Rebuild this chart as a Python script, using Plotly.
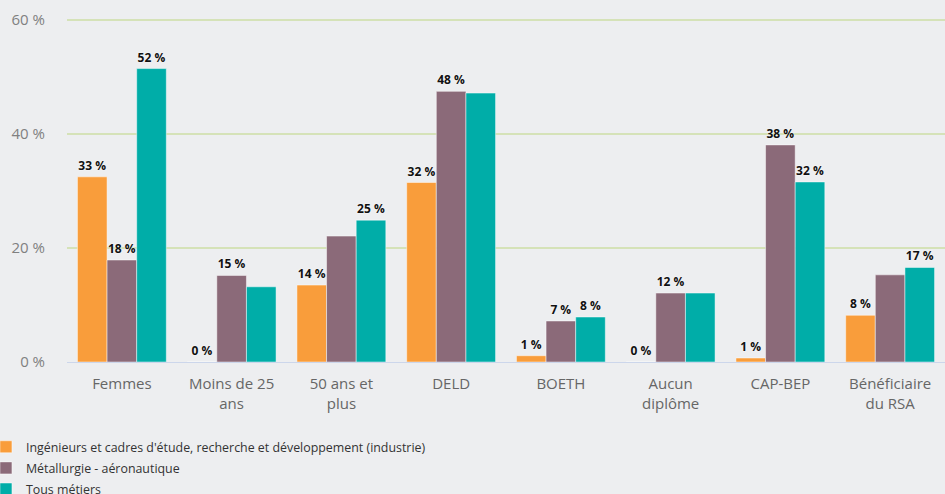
import plotly.graph_objects as go

categories = ["Femmes", "Moins de 25<br>ans", "50 ans et<br>plus", "DELD", "BOETH",
              "Aucun<br>diplôme", "CAP-BEP", "Bénéficiaire<br>du RSA"]

series_names = [
    "Ingénieurs et cadres d'étude, recherche et développement (industrie)",
    "Métallurgie - aéronautique",
    "Tous métiers",
]
ingenieurs = [32.5, 0.0, 13.5, 31.5, 1.1, 0.0, 0.7, 8.2]
metallurgie = [17.9, 15.2, 22.1, 47.5, 7.2, 12.1, 38.1, 15.3]
tous_metiers = [51.5, 13.2, 24.9, 47.2, 7.9, 12.1, 31.6, 16.6]

# which data labels are visible in the original (overlapping ones hidden)
show_ingenieurs = [True, True, True, True, True, True, True, True]
show_metallurgie = [True, True, False, True, True, True, True, False]
show_tous = [True, False, True, False, True, False, True, True]

y_ticks = [0, 20, 40, 60]
y_tick_labels = ["0 %", "20 %", "40 %", "60 %"]

colors = ["#f99d3b", "#8b6a79", "#00ada8"]


def pct_label(v):
    return f"{int(v + 0.5)} %"


fig = go.Figure()
for i, (name, vals, show, col) in enumerate(zip(series_names,
                                 [ingenieurs, metallurgie, tous_metiers],
                                 [show_ingenieurs, show_metallurgie, show_tous],
                                 colors)):
    texts = [pct_label(v) if s else "" for v, s in zip(vals, show)]
    fig.add_trace(go.Bar(
        x=categories, y=vals, name=name, legendgroup=f"g{i}",
        marker=dict(color=col, line=dict(color="rgba(255,255,255,0.6)", width=0.8)),
        text=texts, textposition="outside", cliponaxis=False,
        textfont=dict(family="Open Sans", size=12, color="#111111", weight="bold",
                      shadow="0px 0px 2px #ffffff"),
    ))

fig.update_layout(
    width=945, height=494,
    margin=dict(l=67, r=0, t=19, b=132, autoexpand=False),
    paper_bgcolor="#edeef0", plot_bgcolor="#edeef0",
    barmode="group", bargap=0.19, bargroupgap=0.0,
    font=dict(family="Open Sans", color="#666666"),
    showlegend=True,
    legend=dict(orientation="v", x=-0.0923, xanchor="left", y=-0.2047, yanchor="top",
                font=dict(family="Open Sans", size=12.4, color="#333333"),
                bgcolor="rgba(0,0,0,0)", itemwidth=30, tracegroupgap=2),
    uniformtext=dict(mode=False),
)
fig.update_xaxes(showgrid=False, tickfont=dict(size=15, color="#666666"),
                 showline=False, ticks="", ticklabelstandoff=11)
fig.update_yaxes(range=[0, 60.2], tickvals=y_ticks, ticktext=y_tick_labels,
                 showgrid=True, gridcolor="#d5e2b8", gridwidth=2,
                 zeroline=True, zerolinecolor="#ccd6eb", zerolinewidth=1,
                 tickfont=dict(size=15, color="#808080"), ticklabelstandoff=21)

fig.write_html("out.html", config={"displayModeBar": False},
               post_script="document.body.style.margin='0';")
